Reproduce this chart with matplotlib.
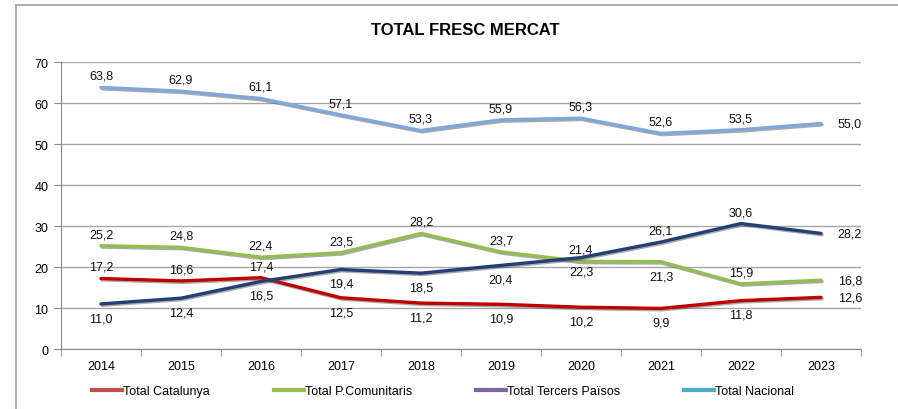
import matplotlib
matplotlib.use("Agg")
import matplotlib.pyplot as plt
import matplotlib.patheffects as pe
from matplotlib.lines import Line2D

years = ["2014", "2015", "2016", "2017", "2018", "2019", "2020", "2021", "2022", "2023"]
catalunya = [17.2, 16.6, 17.4, 12.5, 11.2, 10.9, 10.2, 9.9, 11.8, 12.6]
comunitaris = [25.2, 24.8, 22.4, 23.5, 28.2, 23.7, 21.4, 21.3, 15.9, 16.8]
tercers = [11.0, 12.4, 16.5, 19.4, 18.5, 20.4, 22.3, 26.1, 30.6, 28.2]
nacional = [63.8, 62.9, 61.1, 57.1, 53.3, 55.9, 56.3, 52.6, 53.5, 55.0]

# label placement per point: a = above, b = below, r = right
pos_cat = ["a", "a", "a", "b", "b", "b", "b", "b", "b", "r"]
pos_com = ["a", "a", "a", "a", "a", "a", "a", "b", "a", "r"]
pos_ter = ["b", "b", "b", "b", "b", "b", "b", "a", "a", "r"]
pos_nac = ["a", "a", "a", "a", "a", "a", "a", "a", "a", "r"]

series = [
    ("Total Catalunya", catalunya, pos_cat, "#C00000", "#C0504D"),
    ("Total P.Comunitaris", comunitaris, pos_com, "#92BE4F", "#9BBB59"),
    ("Total Tercers Països", tercers, pos_ter, "#243F74", "#8064A2"),
    ("Total Nacional", nacional, pos_nac, "#7FA8DA", "#4BACC6"),
]

plt.rcParams["font.family"] = ["Liberation Sans", "DejaVu Sans"]

fig = plt.figure(figsize=(8.98, 4.10), dpi=100)
ax = fig.add_axes([0.0679, 0.1463, 0.8909, 0.70])

x = list(range(len(years)))
shadow = [pe.SimpleLineShadow(offset=(0.8, -1.0), shadow_color="#555555", alpha=0.5), pe.Normal()]
offsets = {"a": (0, 4, "center", "bottom"), "b": (0, -6, "center", "top"),
           "r": (12, 0, "left", "center")}

for name, vals, pos, col, _ in series:
    ax.plot(x, vals, color=col, lw=2.4, solid_capstyle="round", path_effects=shadow)
    for xi, v, p in zip(x, vals, pos):
        dx, dy, ha, va = offsets[p]
        ax.annotate(f"{v:.1f}".replace(".", ","), (xi, v), xytext=(dx, dy),
                    textcoords="offset points", ha=ha, va=va, fontsize=9,
                    color="#111111")

ax.set_xlim(-0.5, len(years) - 0.5)
ax.set_ylim(0, 70)
ax.set_yticks(range(0, 71, 10))
ax.set_xticks(x)
ax.set_xticklabels(years)
ax.set_xticks([i - 0.5 for i in range(len(years) + 1)], minor=True)
ax.tick_params(axis="x", which="major", length=0, pad=8, labelsize=9)
ax.tick_params(axis="x", which="minor", length=5, color="#888888")
ax.tick_params(axis="y", length=5, color="#888888", labelsize=9, pad=4)
ax.grid(True, axis="y", color="#a6a6a6", lw=1.0)
ax.set_axisbelow(True)
for s in ["top", "right"]:
    ax.spines[s].set_visible(False)
for s in ["left", "bottom"]:
    ax.spines[s].set_color("#888888")

fig.text(0.518, 0.925, "TOTAL FRESC MERCAT", ha="center", va="center",
         fontsize=12, fontweight="bold")

handles = [Line2D([], [], color=lc, lw=3) for _, _, _, _, lc in series]
fig.legend(handles, [s[0] for s in series], loc="center left",
           bbox_to_anchor=(0.09, 0.044), ncol=4, frameon=False, fontsize=9,
           handlelength=2.4, handletextpad=0.1, columnspacing=5.1)

# chart border (cropped on right and bottom)
fig.add_artist(Line2D([16 / 898, 16 / 898], [0, 1 - 6 / 410], color="#a0a0a0", lw=1.2,
                      transform=fig.transFigure))
fig.add_artist(Line2D([16 / 898, 1], [1 - 6 / 410, 1 - 6 / 410], color="#a0a0a0", lw=1.2,
                      transform=fig.transFigure))

fig.savefig("out.png", dpi=100)
